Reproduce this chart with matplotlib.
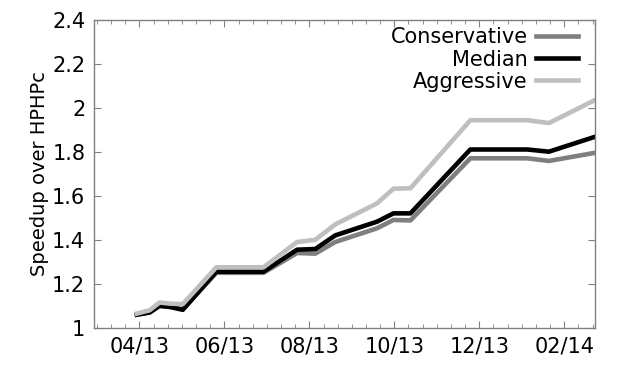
import numpy as np
import matplotlib
matplotlib.use("Agg")
import matplotlib.pyplot as plt
from matplotlib.ticker import MultipleLocator

# months since start of 2013 (4 = 04/13, 14 = 02/14)
months = [3.94, 4.24, 4.47, 4.72, 5.02, 5.81, 6.92, 7.71, 8.14, 8.61,
          9.59, 9.98, 10.38, 11.79, 13.13, 13.64, 14.73]
conservative = [1.06, 1.07, 1.10, 1.095, 1.085, 1.25, 1.25, 1.34, 1.337, 1.39,
                1.452, 1.49, 1.488, 1.77, 1.77, 1.758, 1.795]
median = [1.06, 1.07, 1.10, 1.095, 1.082, 1.255, 1.255, 1.355, 1.358, 1.42,
          1.482, 1.52, 1.52, 1.81, 1.81, 1.80, 1.868]
aggressive = [1.065, 1.08, 1.115, 1.11, 1.108, 1.275, 1.275, 1.39, 1.40, 1.47,
              1.565, 1.632, 1.634, 1.943, 1.943, 1.93, 2.035]

xtick_pos = [4, 6, 8, 10, 12, 14]
xtick_labels = ["04/13", "06/13", "08/13", "10/13", "12/13", "02/14"]
yticks = [1, 1.2, 1.4, 1.6, 1.8, 2, 2.2, 2.4]
ytick_labels = ["1", "1.2", "1.4", "1.6", "1.8", "2", "2.2", "2.4"]

fig = plt.figure(figsize=(6.2, 3.76), dpi=100)
ax = fig.add_axes([0.151, 0.128, 0.809, 0.82])

ax.plot(months, conservative, color="#7f7f7f", lw=3.3, label="Conservative")
ax.plot(months, median, color="black", lw=3.3, label="Median")
ax.plot(months, aggressive, color="#bfbfbf", lw=3.3, label="Aggressive")

ax.set_xlim(2.92, 14.73)
ax.set_ylim(1, 2.4)
ax.set_xticks(xtick_pos)
ax.set_xticklabels(xtick_labels)
ax.xaxis.set_minor_locator(MultipleLocator(1 / 3))
ax.set_yticks(yticks)
ax.set_yticklabels(ytick_labels)

ax.tick_params(which="both", direction="in", top=True, right=True,
               color="#808080", labelsize=15, pad=6)
ax.tick_params(which="major", length=5)
ax.tick_params(which="minor", length=3)
for s in ax.spines.values():
    s.set_color("#808080")
    s.set_linewidth(1)

ax.set_ylabel("Speedup over HPHPc", fontsize=14, labelpad=2)

ax.legend(loc="upper right", frameon=False, markerfirst=False, fontsize=15,
          handlelength=2.0, handletextpad=0.4, labelspacing=0.1,
          borderaxespad=0.2, bbox_to_anchor=(0.99, 1.015))

fig.savefig("out.png", dpi=100)
